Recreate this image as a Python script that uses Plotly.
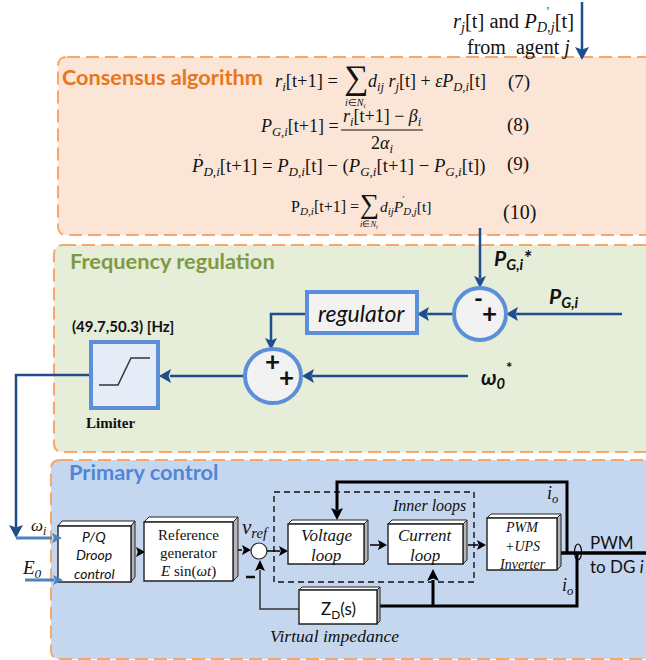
import plotly.graph_objects as go

# all text of the diagram
panel_titles = ["Consensus algorithm", "Frequency regulation", "Primary control"]
agent_lines = ["<i>r<sub>j</sub></i>[t] and <i>P<sub>D,j</sub></i>[t]", "from  agent <i>j</i>"]
eq_numbers = ["(7)", "(8)", "(9)", "(10)"]
eq7 = ["<i>r<sub>i</sub></i>[t+1] =", "<i>d<sub>ij</sub> r<sub>j</sub></i>[t] + <i>εP<sub>D,i</sub></i>[t]", "<i>i</i>∈<i>N<sub>i</sub></i>"]
eq8 = ["<i>P<sub>G,i</sub></i>[t+1] =", "<i>r<sub>i</sub></i>[t+1] − <i>β<sub>i</sub></i>", "2<i>α<sub>i</sub></i>"]
eq9 = ["<i>P<sub>D,i</sub></i>[t+1] = <i>P<sub>D,i</sub></i>[t] − (<i>P<sub>G,i</sub></i>[t+1] − <i>P<sub>G,i</sub></i>[t])"]
eq10 = ["P<sub><i>D,i</i></sub>[t+1] =", "<i>d<sub>ij</sub>P<sub>D,j</sub></i>[t]", "<i>i</i>∈<i>N<sub>i</sub></i>"]
freq_labels = ["<b><i>P<sub>G,i</sub>*</i></b>", "<b><i>P<sub>G,i</sub></i></b>", "<b><i>ω<sub>0</sub></i></b>", "<i>regulator</i>", "(49.7,50.3) [Hz]", "Limiter"]
droop_lines = ["P/Q", "Droop", "control"]
reference_lines = ["Reference", "generator", "<i>E</i> sin(<i>ωt</i>)"]
voltage_lines = ["Voltage", "loop"]
current_lines = ["Current", "loop"]
inverter_lines = ["PWM", "+UPS", "Inverter"]
primary_labels = ["<i>ω<sub>i</sub></i>", "<i>E<sub>0</sub></i>", "<i>v<sub>ref</sub></i>", "Inner loops", "Z<sub>D</sub>(s)",
                  "Virtual impedance", "<i>i<sub>o</sub></i>", "PWM", "to DG <i>i</i>"]

SERIF = "Liberation Serif"
SANS = "Lato"
NAVY = "#1f4e8c"
MID_BLUE = "#5b8fd9"
LIGHT_BLUE = "#4f81bd"
DASH_ORANGE = "#f5a869"
INK = "#111111"

fig = go.Figure()
shapes = []
notes = []


def path_shape(d, line_color=None, width=0, fill=None, dash=None):
    shapes.append(dict(type="path", path=d, xref="x", yref="y",
                       line=dict(color=line_color or "rgba(0,0,0,0)", width=width, dash=dash),
                       fillcolor=fill or "rgba(0,0,0,0)"))


def poly(points, color=INK, width=1.5, dash=None):
    d = "M " + " L ".join(f"{x},{y}" for x, y in points)
    path_shape(d, color, width, None, dash)


def head(tip, direction, color=NAVY, length=11, half=6):
    x, y = tip
    dx, dy = {"l": (1, 0), "r": (-1, 0), "u": (0, 1), "d": (0, -1)}[direction]
    bx, by = x + dx * length, y + dy * length
    nx, ny = x + dx * length * 0.8, y + dy * length * 0.8
    d = (f"M {x},{y} L {bx - dy * half},{by + dx * half} L {nx},{ny} "
         f"L {bx + dy * half},{by - dx * half} Z")
    path_shape(d, None, 0, color)


def label(text, x, y, size, font=SERIF, color=INK, anchor="center"):
    notes.append(dict(text=text, x=x, y=y, xref="x", yref="y", showarrow=False, xanchor=anchor,
                      yanchor="middle", align="center", borderpad=0,
                      font=dict(family=font, size=size, color=color)))


def panel(x0, y0, y1, fill):
    x1, r = 660, 9
    d = (f"M {x0 + r},{y0} L {x1},{y0} L {x1},{y1} L {x0 + r},{y1} Q {x0},{y1} {x0},{y1 - r} "
         f"L {x0},{y0 + r} Q {x0},{y0} {x0 + r},{y0} Z")
    path_shape(d, DASH_ORANGE, 2, fill, "13px,6px")


def block(x0, y0, x1, y1, depth_x, depth_y):
    # raised box: top face, grey side face, white front
    path_shape(f"M {x0},{y0} L {x0 + depth_x},{y0 - depth_y} L {x1 + depth_x},{y0 - depth_y} L {x1},{y0} Z", "#222222", 1, "#ffffff")
    path_shape(f"M {x1},{y0} L {x1 + depth_x},{y0 - depth_y} L {x1 + depth_x},{y1 - depth_y} L {x1},{y1} Z", "#222222", 1, "#b5b5b5")
    path_shape(f"M {x0},{y0} L {x1},{y0} L {x1},{y1} L {x0},{y1} Z", "#222222", 1.4, "#ffffff")


def ellipse(cx, cy, rx, ry, line_color, width, fill=None):
    shapes.append(dict(type="circle", xref="x", yref="y", x0=cx - rx, x1=cx + rx, y0=cy - ry, y1=cy + ry,
                       line=dict(color=line_color, width=width), fillcolor=fill or "rgba(0,0,0,0)"))


def stack(lines, cx, ys, size, font=SERIF):
    for text, y in zip(lines, ys):
        label(text, cx, y, size, font)


# panels
panel(58, 57, 235, "#fbe5d6")
panel(54, 245, 452, "#e6edd8")
panel(51, 460, 659, "#c5d6ef")
label(f"<b>{panel_titles[0]}</b>", 61, 77, 21.7, SANS, "#e8761c", "left")
label(f"<b>{panel_titles[1]}</b>", 69, 260, 21.8, SANS, "#7f9a45", "left")
label(f"<b>{panel_titles[2]}</b>", 68, 471, 21.8, SANS, "#4f86d6", "left")

# agent input
poly([(582, 2), (582, 50)], NAVY, 2.5)
head((582, 60), "d", NAVY, 13, 7)
label(agent_lines[0], 452, 22, 20.5, SERIF, INK, "left")
label("<i>'</i>", 547, 11, 12)
label(agent_lines[1], 466, 47, 20, SERIF, INK, "left")

# equations
label(eq7[0], 274, 82, 18.5, SERIF, INK, "left")
label("∑", 356, 78, 34)
label(eq7[1], 367, 82, 18, SERIF, INK, "left")
label(eq7[2], 355, 103, 10)
label(eq_numbers[0], 519, 82, 19)

label(eq8[0], 259, 127, 18, SERIF, INK, "left")
label(eq8[1], 382, 117, 18)
poly([(341, 130), (423, 130)], INK, 1)
label(eq8[2], 382, 144, 18)
label(eq_numbers[1], 518, 125, 19)

label(eq9[0], 190, 167, 18.7, SERIF, INK, "left")
label("<i>'</i>", 199, 157, 11)
label(eq_numbers[2], 518, 164, 19)

label(eq10[0], 290, 207, 16, SERIF, INK, "left")
label("∑", 369, 204, 27)
label(eq10[1], 379, 207, 15.5, SERIF, INK, "left")
label("<i>'</i>", 403, 199, 9)
label(eq10[2], 369, 224, 8.5)
label(eq_numbers[3], 519, 212, 20)

# frequency regulation
poly([(480, 228), (480, 278)], NAVY, 2.5)
head((480, 288), "d", NAVY, 12, 6)
poly([(622, 314), (516, 314)], NAVY, 2.5)
head((506, 314), "l", NAVY, 12, 7)
poly([(454, 314), (427, 314)], NAVY, 2.5)
head((417, 314), "l", NAVY, 12, 7)
poly([(307, 314), (271, 314), (271, 341)], NAVY, 2.5)
head((271, 350), "d", NAVY, 12, 6)
poly([(468, 376), (312, 376)], NAVY, 2.5)
head((302, 376), "l", NAVY, 12, 7)
poly([(245, 376), (170, 376)], NAVY, 2.5)
head((159, 376), "l", NAVY, 12, 7)
poly([(91, 375), (16, 375), (16, 528)], NAVY, 2.5)
head((16, 538), "d", NAVY, 13, 7)

ellipse(480, 314, 26, 26, MID_BLUE, 4, "#f2f2f2")
ellipse(273, 376, 28, 27, MID_BLUE, 4, "#f2f2f2")
shapes.append(dict(type="rect", xref="x", yref="y", x0=307, x1=417, y0=292, y1=333,
                   line=dict(color=MID_BLUE, width=4), fillcolor="#f2f2f2"))
shapes.append(dict(type="rect", xref="x", yref="y", x0=91, x1=158, y0=342, y1=408,
                   line=dict(color=MID_BLUE, width=4), fillcolor="#e6ecf7"))
poly([(99, 385), (118, 385), (131, 358), (150, 358)], "#333333", 1.5)

label("<b>-</b>", 478, 297, 24, SANS)
label("<b>+</b>", 489, 313, 26, SANS)
label("<b>+</b>", 272, 361, 26, SANS)
label("<b>+</b>", 286, 377, 26, SANS)

label(freq_labels[0], 493, 259, 21, SANS, INK, "left")
label(freq_labels[1], 548, 297, 21, SANS, INK, "left")
label(freq_labels[2], 480, 378, 21, SANS, INK, "left")
label("<b>*</b>", 509, 367, 15, SANS)
label(freq_labels[3], 362, 313, 23, SANS)
label(f"<b>{freq_labels[4]}</b>", 71, 326, 15, SANS, INK, "left")
label(f"<b>{freq_labels[5]}</b>", 110, 423, 15)

# primary control: thick loops first so the boxes sit on top
poly([(558, 553), (650, 553)], "#000000", 3.5)
poly([(567, 553), (567, 482), (337, 482), (337, 510)], "#000000", 3)
head((337, 520), "d", "#000000", 12, 6)
poly([(379, 606), (577, 606), (577, 553)], "#000000", 3)
poly([(433, 606), (433, 580)], "#000000", 3)
head((433, 569), "u", "#000000", 12, 6)
ellipse(578, 552, 3.5, 8, "#000000", 1.2)

shapes.append(dict(type="rect", xref="x", yref="y", x0=274, x1=474, y0=492, y1=582,
                   line=dict(color="#111111", width=1.4, dash="6px,4px"), fillcolor="rgba(0,0,0,0)"))

block(58, 526, 131, 582, 4, 5)
block(144, 522, 233, 581, 5, 5)
block(288, 524, 364, 564, 4, 4)
block(388, 524, 463, 564, 4, 4)
block(487, 518, 557, 570, 4, 4)
block(299, 590, 377, 624, 3, 3)
ellipse(259, 551, 8, 8, "#222222", 1.2, "#ffffff")

poly([(16, 538), (52, 538)], LIGHT_BLUE, 3)
head((62, 538), "r", LIGHT_BLUE, 10, 5)
poly([(25, 580), (54, 580)], LIGHT_BLUE, 3)
head((63, 580), "r", LIGHT_BLUE, 10, 5)

head((145, 552), "r", "#000000", 9, 5)
poly([(238, 550), (242, 550)], "#000000", 1.5)
head((251, 550), "r", "#000000", 9, 5)
poly([(267, 551), (280, 551)], "#000000", 1.5)
head((288, 551), "r", "#000000", 9, 5)
poly([(370, 545), (380, 545)], "#000000", 1.5)
head((387, 545), "r", "#000000", 9, 5)
poly([(468, 545), (478, 545)], "#000000", 1.5)
head((486, 545), "r", "#000000", 9, 5)
poly([(299, 609), (260, 609), (260, 570)], "#333333", 1.5)
head((260, 560), "u", "#000000", 11, 5)
poly([(246, 577), (255, 577)], "#111111", 2.5)

stack([f"<i>{t}</i>" for t in droop_lines], 94, [536, 554, 573], 14, SANS)
stack(reference_lines, 188, [535, 553, 571], 15)
stack([f"<i>{t}</i>" for t in voltage_lines], 326, [535, 555], 17)
stack([f"<i>{t}</i>" for t in current_lines], 425, [535, 555], 17)
stack([f"<i>{t}</i>" for t in inverter_lines], 522, [527, 546, 564], 14)

label(primary_labels[0], 38, 527, 17)
label(primary_labels[1], 32, 569, 19)
label(primary_labels[2], 255, 528, 21)
label(f"<i>{primary_labels[3]}</i>", 429, 506, 16)
label(primary_labels[4], 338, 610, 17, SANS)
label(f"<i>{primary_labels[5]}</i>", 334, 636, 17.6)
label(primary_labels[6], 552, 494, 18)
label(primary_labels[6], 567, 586, 18)
label(primary_labels[7], 589, 542, 17, SANS, INK, "left")
label(primary_labels[8], 589, 566, 17, SANS, INK, "left")

fig.update_layout(width=646, height=660, margin=dict(l=0, r=0, t=0, b=0), showlegend=False,
                  paper_bgcolor="#ffffff", plot_bgcolor="#ffffff", shapes=shapes, annotations=notes,
                  xaxis=dict(range=[0, 646], visible=False, fixedrange=True),
                  yaxis=dict(range=[660, 0], visible=False, fixedrange=True))
fig.write_html("out.html", config={"displayModeBar": False},
               post_script="document.body.style.margin='0';document.body.style.overflow='hidden';")
